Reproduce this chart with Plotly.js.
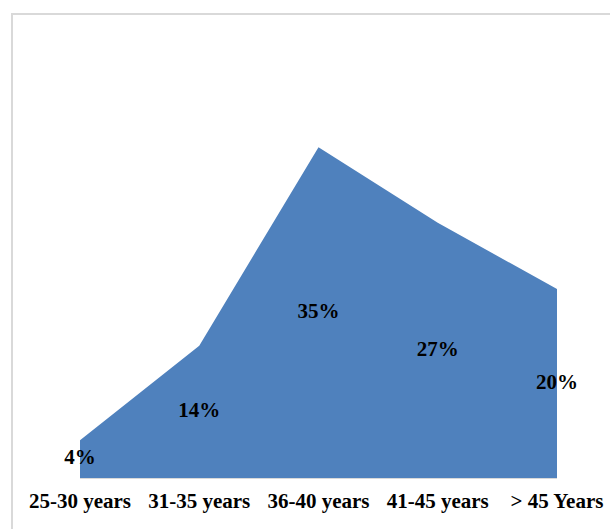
<!DOCTYPE html>
<html>
<head>
<meta charset="utf-8">
<script src="https://cdn.plot.ly/plotly-3.0.1.min.js"></script>
<style>
html,body{margin:0;padding:0;background:#fff;}
#wrap{position:relative;width:610px;height:529px;overflow:hidden;}
#frame{position:absolute;left:11px;top:13px;width:700px;height:700px;border-left:2px solid #d9d9d9;border-top:2px solid #d9d9d9;box-sizing:border-box;pointer-events:none;}
#chart{position:absolute;left:0;top:0;width:610px;height:529px;}
</style>
</head>
<body>
<div id="wrap">
<div id="chart"></div>
<div id="frame"></div>
</div>
<script>
var categories = ["25-30 years", "31-35 years", "36-40 years", "41-45 years", "> 45 Years"];
var values = [4, 14, 35, 27, 20];
var labels = ["4%", "14%", "35%", "27%", "20%"];

var area = {
  x: categories,
  y: values,
  type: "scatter",
  mode: "lines",
  fill: "tozeroy",
  fillcolor: "#4F81BD",
  line: {width: 0, color: "#4F81BD"},
  hoverinfo: "skip"
};
var textTrace = {
  x: categories,
  y: values.map(function(v){return v/2;}),
  type: "scatter",
  mode: "text",
  text: labels,
  textposition: "middle center",
  cliponaxis: false,
  textfont: {family: "Liberation Serif, Times New Roman, serif", size: 21, color: "#000", weight: "bold"},
  hoverinfo: "skip"
};

var layout = {
  width: 610,
  height: 529,
  margin: {l: 80, r: 53, t: 100, b: 51},
  paper_bgcolor: "rgba(0,0,0,0)",
  plot_bgcolor: "rgba(0,0,0,0)",
  showlegend: false,
  xaxis: {
    type: "category",
    range: [0, 4],
    showgrid: false,
    zeroline: false,
    showline: true,
    linecolor: "#d9d9d9",
    linewidth: 1,
    ticks: "",
    ticklabelstandoff: 4,
    automargin: false,
    tickfont: {family: "Liberation Serif, Times New Roman, serif", size: 21, color: "#000", weight: "bold"}
  },
  yaxis: {
    range: [0, 40],
    showgrid: false,
    zeroline: false,
    showline: false,
    showticklabels: false,
    ticks: ""
  }
};

Plotly.newPlot("chart", [area, textTrace], layout, {displayModeBar: false, staticPlot: true});
</script>
</body>
</html>
